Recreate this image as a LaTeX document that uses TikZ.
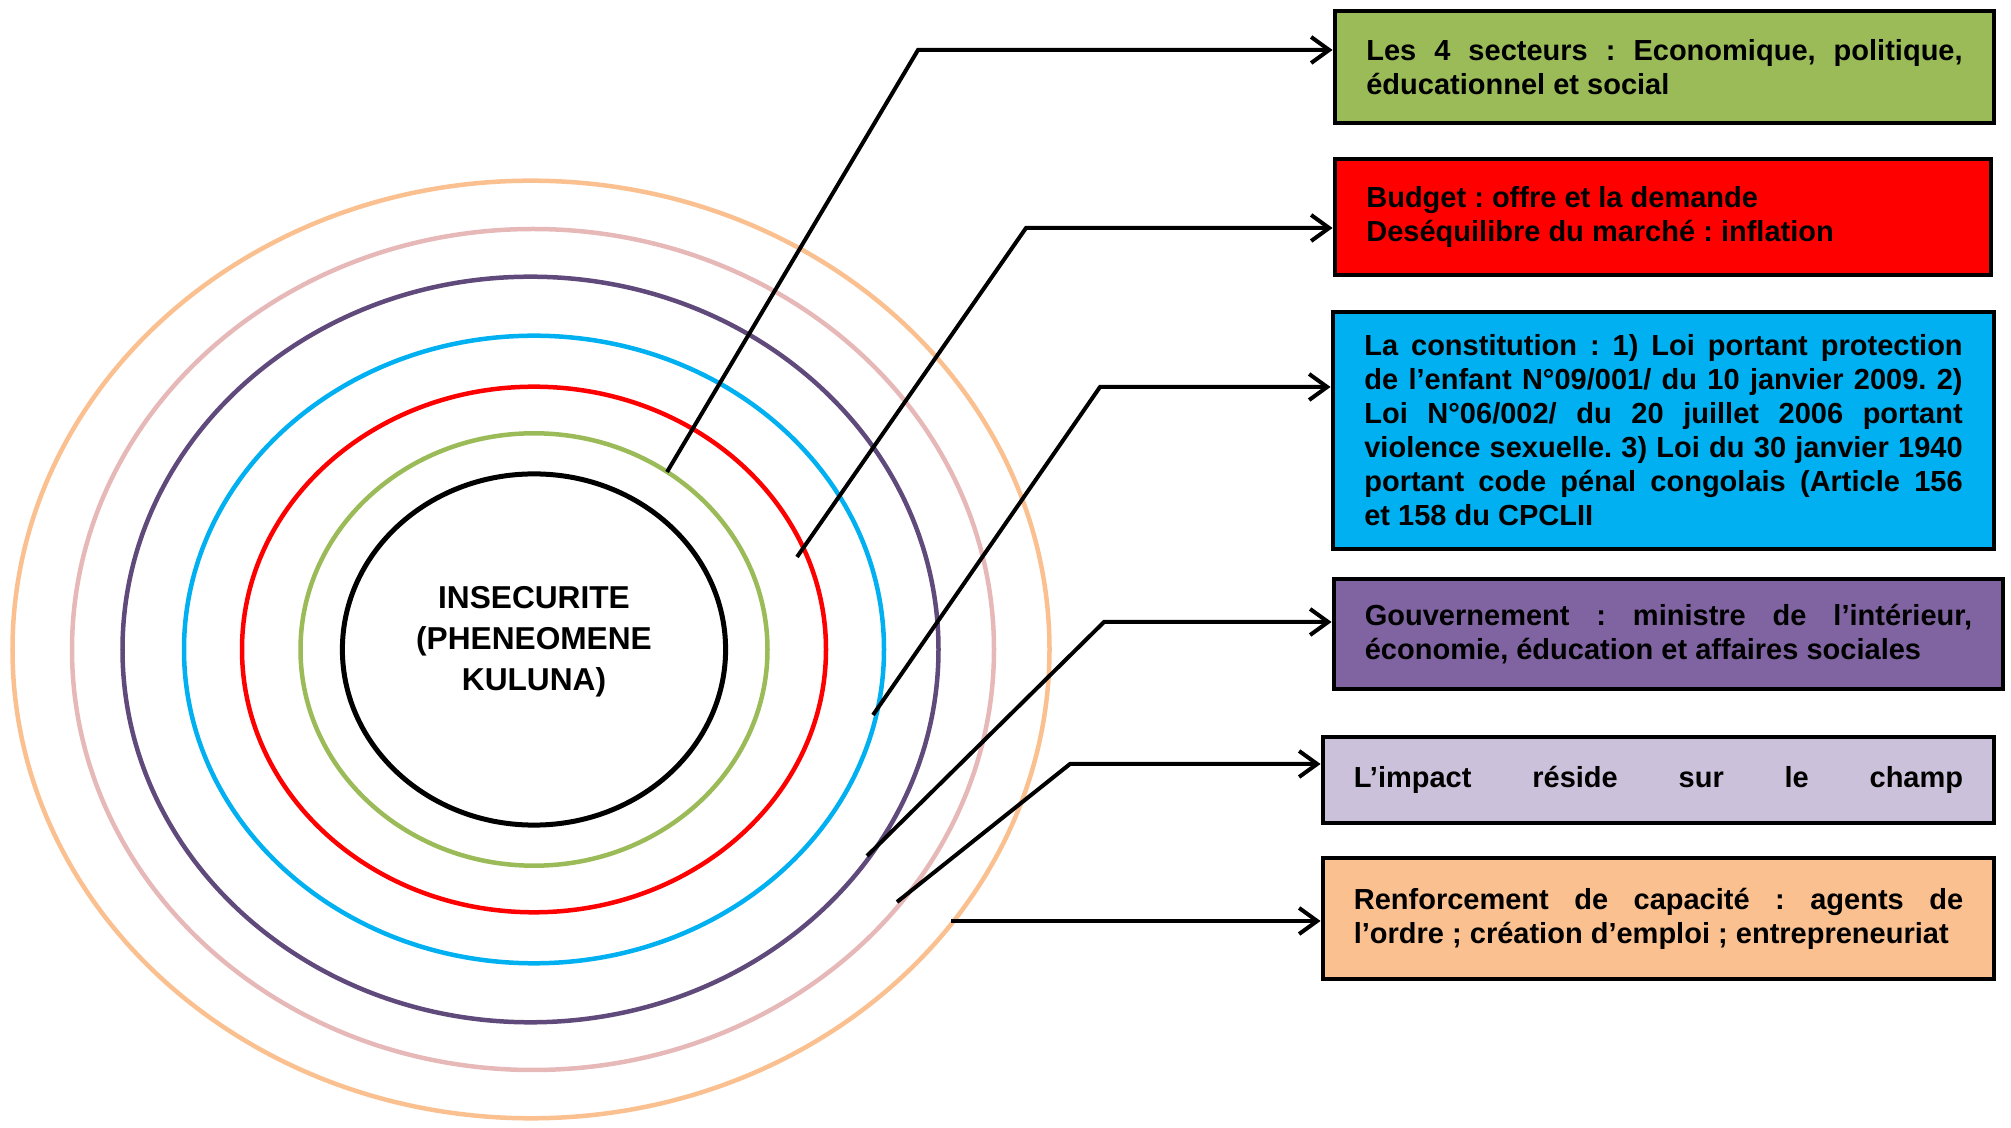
\documentclass[tikz,border=0pt]{standalone}
\usepackage{fontspec}
\setmainfont{Liberation Sans}
\usetikzlibrary{arrows.meta,shapes.geometric}
\definecolor{rOrange}{HTML}{FAC090}
\definecolor{rPink}{HTML}{E6B9B8}
\definecolor{rPurple}{HTML}{604A7B}
\definecolor{rBlue}{HTML}{00B0F0}
\definecolor{rRed}{HTML}{FF0000}
\definecolor{rGreen}{HTML}{9BBB59}
\definecolor{bPurple}{HTML}{8064A2}
\definecolor{bLav}{HTML}{CCC1DA}
\frenchspacing
\tikzset{
  ring/.style={line width=0.045cm},
  infobox/.style={draw=black, line width=0.045cm, inner sep=0pt, align=justify,
    font=\fontsize{8.25}{9.67}\selectfont\bfseries\frenchspacing},
  conn/.style={line width=0.04cm, black, -{Straight Barb[length=0.18cm,width=0.26cm]}},
  centertext/.style={align=center, inner sep=0pt,
    font=\fontsize{9}{11.6}\selectfont\bfseries}
}
\begin{document}
\begin{tikzpicture}[x=0.01cm,y=-0.01cm]
\useasboundingbox (0,0) rectangle (2011,1128);
% rings
\draw[ring, rOrange] (531,649.5) ellipse [x radius=518.5, y radius=468.8];
\draw[ring, rPink]   (533,649.5) ellipse [x radius=461, y radius=420.5];
\draw[ring, rPurple] (530.5,649.5) ellipse [x radius=408, y radius=372.8];
\draw[ring, rBlue]   (534,649.5) ellipse [x radius=350, y radius=313.8];
\draw[ring, rRed]    (534,649.5) ellipse [x radius=292, y radius=262.8];
\draw[ring, rGreen]  (534,649.5) ellipse [x radius=233.5, y radius=216.2];
\node[ellipse, draw=black, line width=0.05cm, minimum width=3.83cm, minimum height=3.51cm, inner sep=0pt] (core) at (534,649.5) {};
\node[centertext] (title) at (534,642) {INSECURITE\\(PHENEOMENE\\KULUNA)};
% boxes
\node[infobox, fill=rGreen, minimum width=6.59cm, minimum height=1.12cm, text width=5.96cm] (g) at (1664.5,67)
 {Les 4 secteurs : Economique, politique,\linebreak éducationnel et social};
\node[infobox, fill=rRed, minimum width=6.56cm, minimum height=1.16cm, text width=5.93cm] (r) at (1663,217)
 {Budget : offre et la demande\newline Deséquilibre du marché : inflation};
\node[infobox, fill=rBlue, minimum width=6.61cm, minimum height=2.37cm, text width=5.98cm] (b) at (1663.5,430.5)
 {La constitution : 1) Loi portant protection\linebreak de l’enfant N°09/001/ du 10 janvier 2009. 2)\linebreak Loi N°06/002/ du 20 juillet 2006 portant\linebreak violence sexuelle. 3) Loi du 30 janvier 1940\linebreak portant code pénal congolais (Article 156\linebreak et 158 du CPCLII};
\node[infobox, fill=bPurple, minimum width=6.69cm, minimum height=1.10cm, text width=6.07cm] (p) at (1668.5,634)
 {Gouvernement : ministre de l’intérieur,\linebreak économie, éducation et affaires sociales};
\node[infobox, fill=bLav, minimum width=6.71cm, minimum height=0.86cm, text width=6.09cm] (l) at (1658.5,780)
 {L’impact\hfill réside\hfill sur\hfill le\hfill champ};
\node[infobox, fill=rOrange, minimum width=6.71cm, minimum height=1.21cm, text width=6.09cm] (o) at (1658.5,918.5)
 {Renforcement de capacité : agents de\linebreak l’ordre ; création d’emploi ; entrepreneuriat};
% connector points
\coordinate (s1) at (667,472);  \coordinate (b1) at (918,50);
\coordinate (s2) at (797,557);  \coordinate (b2) at (1026,228);
\coordinate (s3) at (873,715);  \coordinate (b3) at (1100,387);
\coordinate (s4) at (867,856);  \coordinate (b4) at (1104,622);
\coordinate (s5) at (897,902);  \coordinate (b5) at (1070,764);
\coordinate (s6) at (951,921);
% connectors
\draw[conn] (s1) -- (b1) -- (b1 -| g.west);
\draw[conn] (s2) -- (b2) -- (b2 -| r.west);
\draw[conn] (s3) -- (b3) -- (b3 -| b.west);
\draw[conn] (s4) -- (b4) -- (b4 -| p.west);
\draw[conn] (s5) -- (b5) -- (b5 -| l.west);
\draw[conn] (s6) -- (s6 -| o.west);
\end{tikzpicture}
\end{document}
